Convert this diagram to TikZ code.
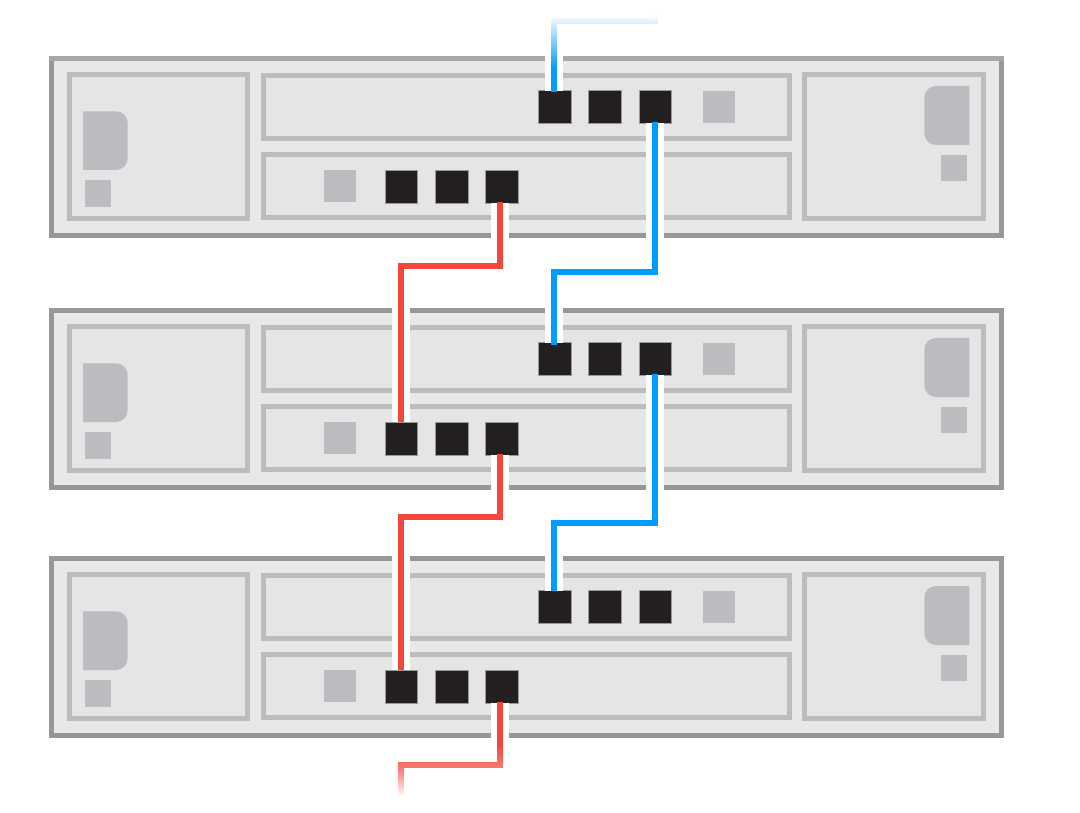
\documentclass[tikz,border=0pt]{standalone}
\usetikzlibrary{fadings}
\definecolor{chassisfill}{HTML}{E8E8E8}
\definecolor{panelfill}{HTML}{E5E5E6}
\definecolor{chassisedge}{HTML}{97979A}
\definecolor{chassistop}{HTML}{A7A7A9}
\definecolor{paneledge}{HTML}{BCBCC0}
\definecolor{portblack}{HTML}{231F20}
\definecolor{wireblue}{HTML}{009CFF}
\definecolor{wirered}{HTML}{F4473C}
\tikzfading[name=fadeblue,top color=transparent!0,bottom color=transparent!100]
\tikzfading[name=fadereda,top color=transparent!100,bottom color=transparent!72]
\tikzfading[name=fieredb,top color=transparent!72,bottom color=transparent!0]
\tikzset{
  chassis/.style={draw=chassisedge,fill=chassisfill,line width=5pt},
  panel/.style={draw=paneledge,fill=panelfill,line width=5pt},
  mark box/.style={fill=paneledge},
  port/.style={rectangle,fill=portblack,draw=black!40,line width=.6pt,minimum size=32.6pt,inner sep=0pt,outer sep=0pt},
  halo/.style={draw=white,line width=18pt},
  blue wire/.style={draw=wireblue,line width=6pt},
  red wire/.style={draw=wirered,line width=6pt}
}
\begin{document}
\begin{tikzpicture}[x=1pt,y=-1pt]
\useasboundingbox (0,0) rectangle (1080,813);
\fill[white] (0,0) rectangle (1080,813);
\foreach \n/\o in {1/0,2/252,3/500}{
  \begin{scope}[yshift=-\o pt]
    \draw[chassis] (51.5,58.5) rectangle (1001.5,235.2);
    \draw[panel] (69.2,74.5) rectangle (247.5,218.5);
    \draw[panel] (263.5,75.5) rectangle (789.8,138.2);
    \draw[panel] (263.5,154.8) rectangle (789.8,217.8);
    \draw[panel] (804.5,74.5) rectangle (983.2,218.5);
    \fill[mark box] (83,111.3) -- (116,111.3) arc[start angle=-90,end angle=0,radius=11.7] -- (127.7,158.3) arc[start angle=0,end angle=90,radius=11.7] -- (83,170) -- cycle;
    \fill[mark box] (85,180) rectangle (111,206.7);
    \fill[mark box] (969.3,86) -- (936,86) arc[start angle=-90,end angle=-180,radius=11.7] -- (924.3,133.3) arc[start angle=180,end angle=90,radius=11.7] -- (969.3,145) -- cycle;
    \fill[mark box] (941.3,155) rectangle (967.3,181.3);
    \fill[mark box] (702.7,91) rectangle (734.7,123);
    \fill[mark box] (324,170) rectangle (356,202);
    \node[port] (u\n a) at (555,107) {};
    \node[port] (u\n b) at (605,107) {};
    \node[port] (u\n c) at (655.3,107) {};
    \node[port] (l\n a) at (401.3,186.7) {};
    \node[port] (l\n b) at (451.5,186.7) {};
    \node[port] (l\n c) at (501.7,186.7) {};
  \end{scope}
}
% lighter top edge of the first chassis
\draw[chassistop,line width=5pt] (49,58.5) -- (1004,58.5);
% free ends and bends
\coordinate (bluein) at (655,8);
\coordinate (bluebendA) at (655,21);
\coordinate (bluebendB) at (554,21);
\coordinate (blueA) at (554,272);
\coordinate (blueB) at (554,523);
\coordinate (redA) at (401,266);
\coordinate (redB) at (401,517);
\coordinate (redC) at (401,765);
\coordinate (redout) at (401,796);
% halos
\draw[halo] (blueA |- u1a.north) -- (bluebendB);
\draw[halo] ([xshift=-.3pt]u1c.south) |- (blueA) -- (blueA |- u2a.north);
\draw[halo] ([xshift=-.3pt]u2c.south) |- (blueB) -- (blueB |- u3a.north);
\draw[halo] ([xshift=-1.7pt]l1c.south) |- (redA) -- (redA |- l2a.north);
\draw[halo] ([xshift=-1.7pt]l2c.south) |- (redB) -- (redB |- l3a.north);
\draw[halo] ([xshift=-1.7pt]l3c.south) |- (redC) -- (redout);
% wires
\draw[blue wire] (bluein) -- (bluebendA) -- (bluebendB) -- ([yshift=-1pt]blueA |- u1a.north);
\draw[blue wire] ([xshift=-.3pt,yshift=1pt]u1c.south) |- (blueA) -- ([yshift=-2pt]blueA |- u2a.north);
\draw[blue wire] ([xshift=-.3pt,yshift=1pt]u2c.south) |- (blueB) -- (blueB |- u3a.north);
\draw[red wire] ([xshift=-1.7pt,yshift=1pt]l1c.south) |- (redA) -- (redA |- l2a.north);
\draw[red wire] ([xshift=-1.7pt,yshift=1pt]l2c.south) |- (redB) -- (redB |- l3a.north);
\draw[red wire] ([xshift=-1.7pt,yshift=1pt]l3c.south) |- (redC) -- (redout);
% fades of the two free ends
\fill[white,path fading=fadeblue,fit fading=true]
  (550,15) rectangle (558,68) (550,15) rectangle (659,25) (651,15) rectangle (659,25);
\fill[white] (650,6) rectangle (660,15);
\fill[white,path fading=fadereda,fit fading=true]
  (495,745) rectangle (505,768) (397,760) rectangle (505,768);
\fill[white,path fading=fieredb,fit fading=true]
  (397,768) rectangle (405,797);
\end{tikzpicture}
\end{document}
